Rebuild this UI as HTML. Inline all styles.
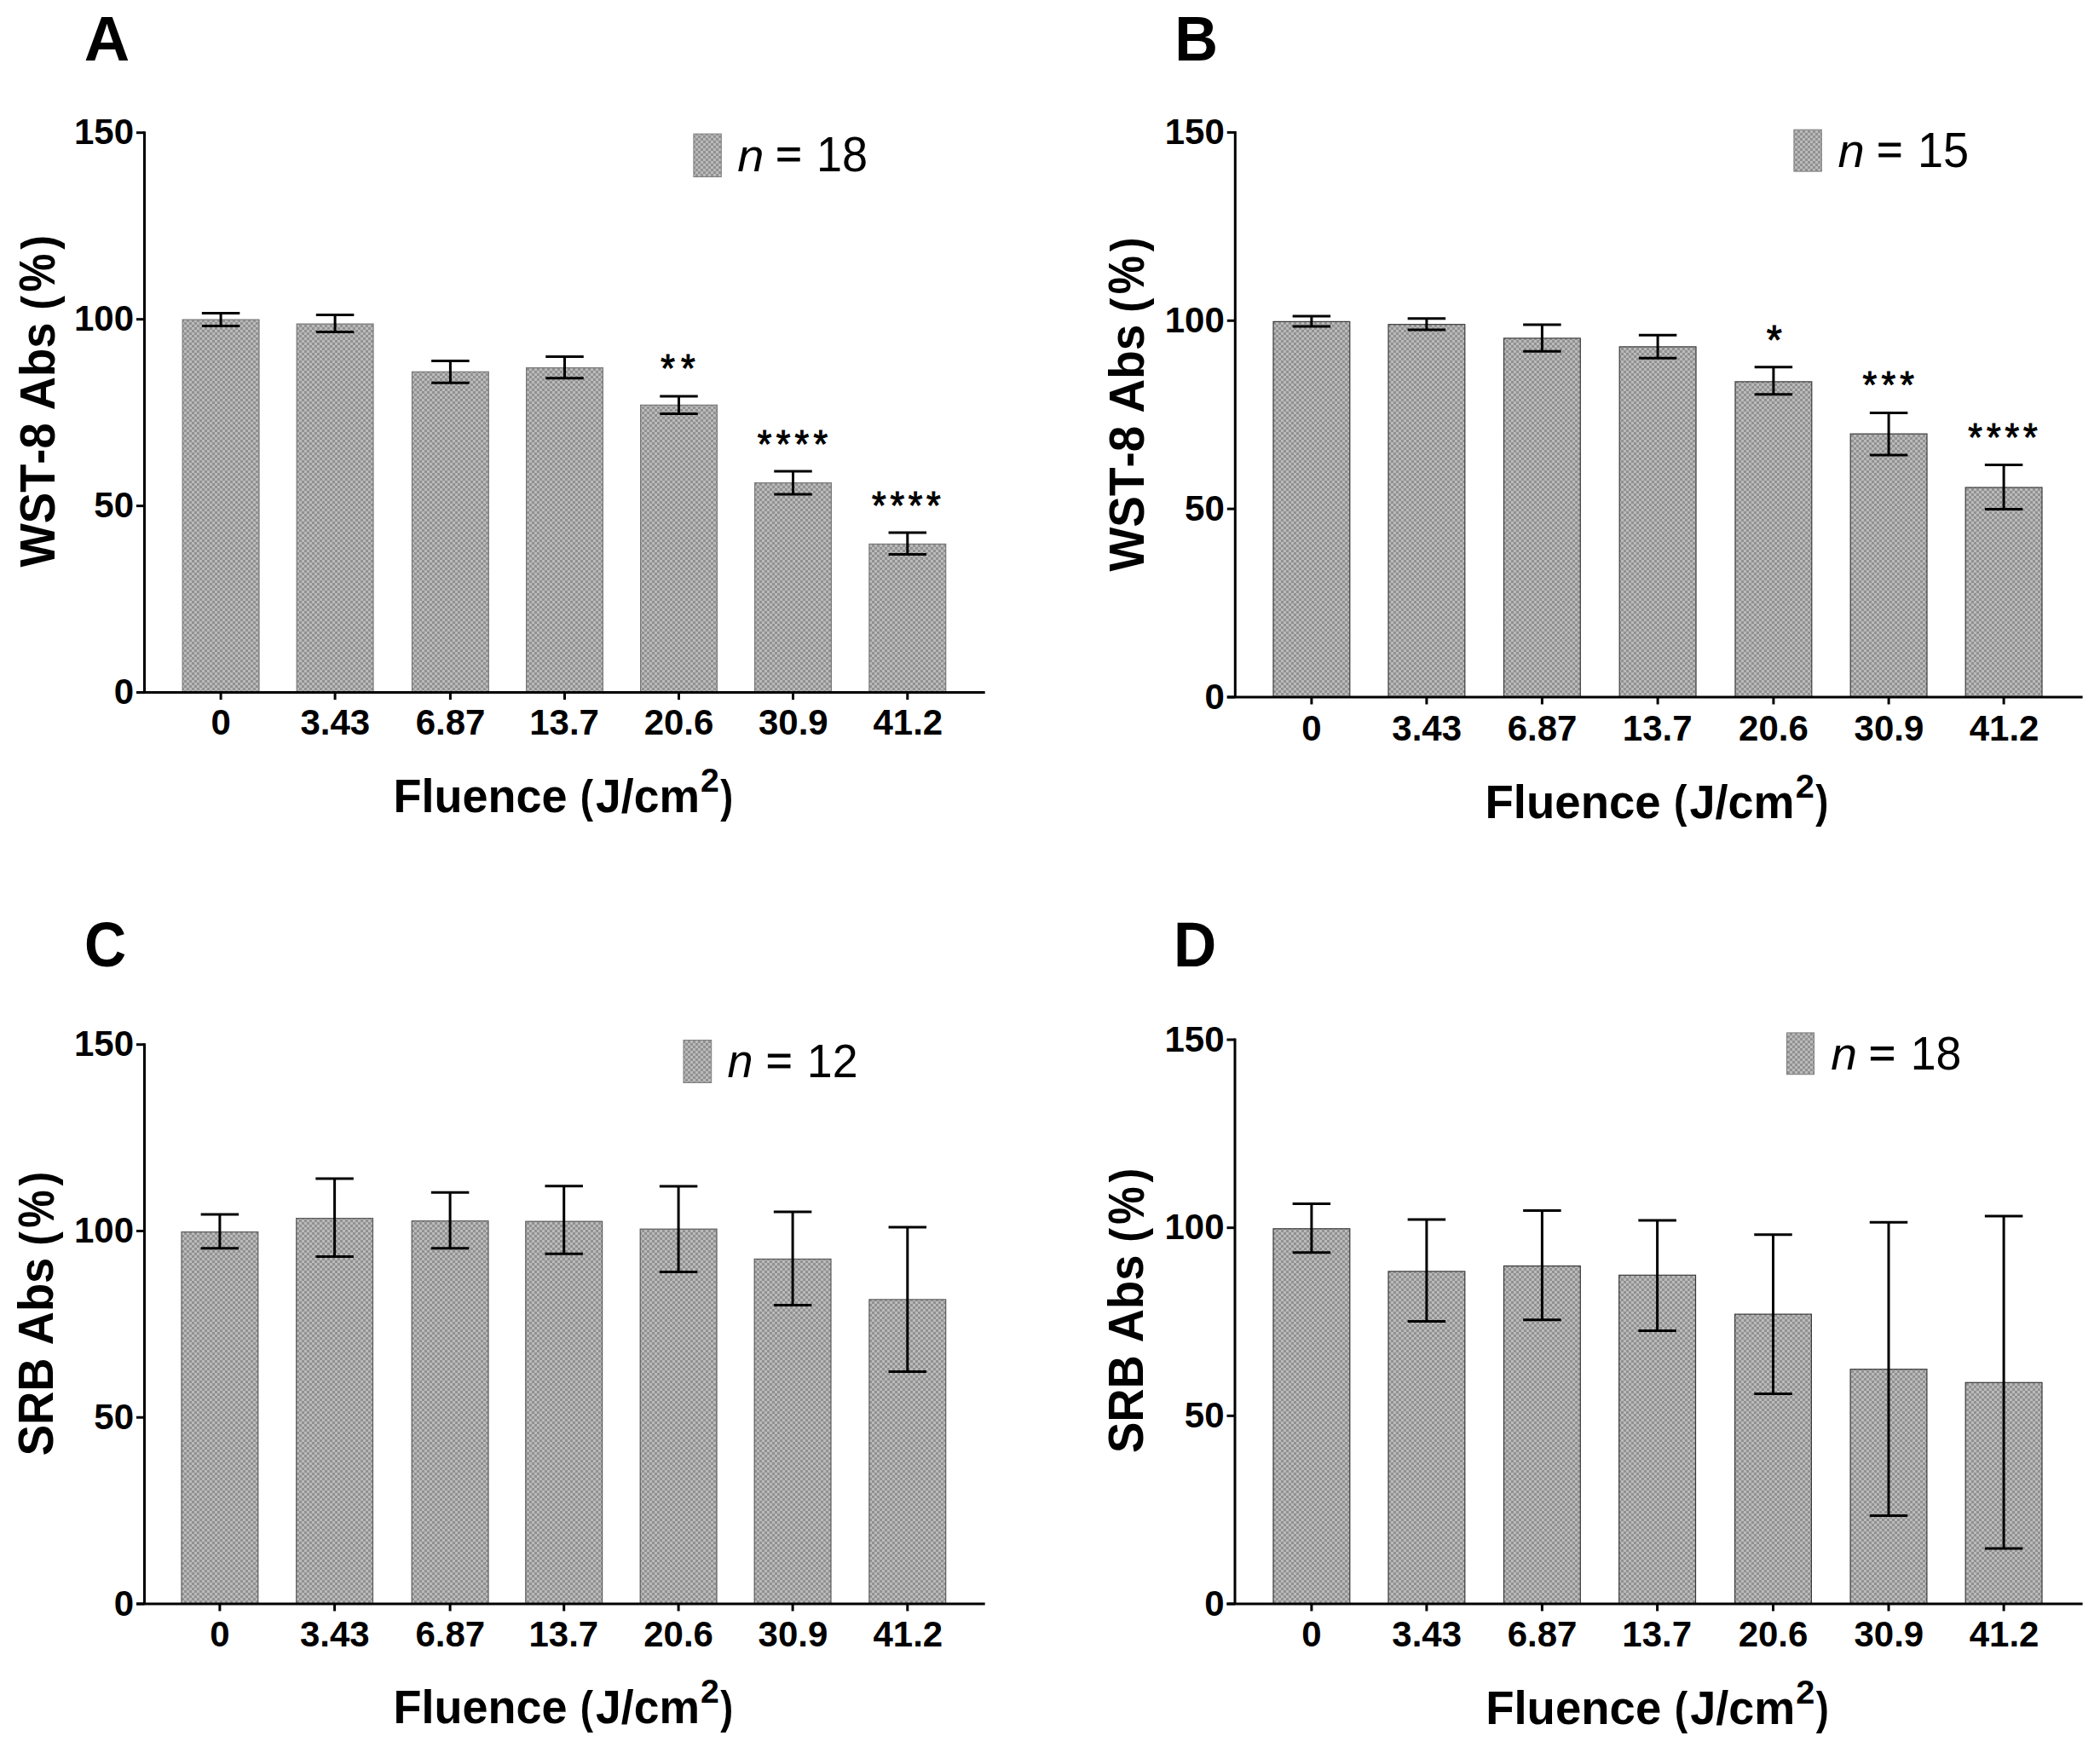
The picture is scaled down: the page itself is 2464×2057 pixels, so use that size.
<!DOCTYPE html><html><head><meta charset="utf-8"><title>Figure</title><style>html,body{margin:0;padding:0;background:#fff;overflow:hidden;}svg{display:block;}text{font-family:"Liberation Sans", Arial, Helvetica, sans-serif;fill:#000;font-kerning:none;}</style></head><body>
<svg width="2464" height="2057" viewBox="0 0 2464 2057">
<defs><pattern id="chk" width="6" height="6" patternUnits="userSpaceOnUse"><rect width="6" height="6" fill="#bababa"/><rect width="3" height="3" fill="#919191"/><rect x="3" y="3" width="3" height="3" fill="#919191"/></pattern></defs>
<rect width="2464" height="2057" fill="#fff"/>
<g><rect x="214.2" y="375.1" width="89.8" height="437.5" fill="url(#chk)" stroke="#777777" stroke-width="1.2"/><rect x="348.2" y="380.1" width="89.8" height="432.5" fill="url(#chk)" stroke="#777777" stroke-width="1.2"/><rect x="483.5" y="436.3" width="89.8" height="376.3" fill="url(#chk)" stroke="#777777" stroke-width="1.2"/><rect x="617.6" y="431.6" width="89.8" height="381" fill="url(#chk)" stroke="#777777" stroke-width="1.2"/><rect x="751.6" y="475.3" width="89.8" height="337.3" fill="url(#chk)" stroke="#777777" stroke-width="1.2"/><rect x="885.6" y="566.6" width="89.8" height="246" fill="url(#chk)" stroke="#777777" stroke-width="1.2"/><rect x="1019.9" y="638.4" width="89.8" height="174.2" fill="url(#chk)" stroke="#777777" stroke-width="1.2"/><path d="M259.1 367.6V382.4M236.85 367.6H281.35M236.85 382.4H281.35" stroke="#000" stroke-width="3" fill="none"/><path d="M393.1 369.5V389.5M370.85 369.5H415.35M370.85 389.5H415.35" stroke="#000" stroke-width="3" fill="none"/><path d="M528.4 423.6V449.3M506.15 423.6H550.65M506.15 449.3H550.65" stroke="#000" stroke-width="3" fill="none"/><path d="M662.5 418.6V443.8M640.25 418.6H684.75M640.25 443.8H684.75" stroke="#000" stroke-width="3" fill="none"/><path d="M796.5 464.9V485.4M774.25 464.9H818.75M774.25 485.4H818.75" stroke="#000" stroke-width="3" fill="none"/><path d="M930.5 553.1V580M908.25 553.1H952.75M908.25 580H952.75" stroke="#000" stroke-width="3" fill="none"/><path d="M1064.8 625V650.6M1042.55 625H1087.05M1042.55 650.6H1087.05" stroke="#000" stroke-width="3" fill="none"/><path d="M169.5 154.2V812.6" stroke="#000" stroke-width="3"/><path d="M160 812.6H1155.7" stroke="#000" stroke-width="3"/><path d="M160 812.6H169.5" stroke="#000" stroke-width="3"/><text transform="translate(133.66 826.38) scale(1 1.02)" font-size="42" font-weight="bold">0</text><path d="M160 593.63H169.5" stroke="#000" stroke-width="3"/><text transform="translate(110.31 607.41) scale(1 1.02)" font-size="42" font-weight="bold">50</text><path d="M160 374.67H169.5" stroke="#000" stroke-width="3"/><text transform="translate(86.95 388.45) scale(1 1.02)" font-size="42" font-weight="bold">100</text><path d="M160 155.7H169.5" stroke="#000" stroke-width="3"/><text transform="translate(86.95 169.48) scale(1 1.02)" font-size="42" font-weight="bold">150</text><path d="M259.1 812.6V821.1" stroke="#000" stroke-width="3"/><text transform="translate(247.45 861.98) scale(1 1.02)" font-size="42" font-weight="bold">0</text><path d="M393.1 812.6V821.1" stroke="#000" stroke-width="3"/><text transform="translate(352.5 861.92) scale(1 1.02)" font-size="42" font-weight="bold">3.43</text><path d="M528.4 812.6V821.1" stroke="#000" stroke-width="3"/><text transform="translate(487.68 861.98) scale(1 1.02)" font-size="42" font-weight="bold">6.87</text><path d="M662.5 812.6V821.1" stroke="#000" stroke-width="3"/><text transform="translate(621.23 861.92) scale(1 1.02)" font-size="42" font-weight="bold">13.7</text><path d="M796.5 812.6V821.1" stroke="#000" stroke-width="3"/><text transform="translate(755.66 861.98) scale(1 1.02)" font-size="42" font-weight="bold">20.6</text><path d="M930.5 812.6V821.1" stroke="#000" stroke-width="3"/><text transform="translate(889.93 861.92) scale(1 1.02)" font-size="42" font-weight="bold">30.9</text><path d="M1064.8 812.6V821.1" stroke="#000" stroke-width="3"/><text transform="translate(1024.45 862.4) scale(1 1.02)" font-size="42" font-weight="bold">41.2</text><text transform="translate(98.86 70.7) scale(1 1)" font-size="74" font-weight="bold">A</text><text transform="translate(63.5 665.45) rotate(-90) scale(0.98 1.04)" font-size="55.5" font-weight="bold">WST-8 Abs</text><text transform="translate(63.5 292.85) rotate(-90) scale(0.91 1)" font-size="55.5" font-weight="bold">)</text><text transform="translate(63.5 363.82) rotate(-90) scale(0.91 1)" font-size="55.5" font-weight="bold">(</text><text transform="translate(64.04 342.55) rotate(-90) scale(1 1.17)" font-size="50.36" font-weight="bold">%</text><g transform="translate(465.1 953.3) scale(1 1)"><text transform="translate(-3.6 0.01) scale(1 1.04)" font-size="54" font-weight="bold">Fluence</text><text transform="translate(215.72 -0.71) scale(0.85 1)" font-size="54" font-weight="bold">(</text><text transform="translate(233.99 0) scale(0.99 1.04)" font-size="54" font-weight="bold">J/cm</text><text transform="translate(380.26 -0.71) scale(0.83 1)" font-size="54" font-weight="bold">)</text><text transform="translate(356.94 -24.1) scale(1 0.99)" font-size="39.26" font-weight="bold">2</text></g><rect x="813.9" y="157.1" width="32.4" height="50.4" fill="url(#chk)" stroke="#7c7c7c" stroke-width="1"/><text transform="translate(865.37 201.1) scale(1 0.97)" font-size="56.06" font-style="italic">n</text><g stroke="#000" stroke-width="0.9"><text transform="translate(910.2 197.43) scale(1 0.93)" font-size="52.28">=</text></g><text transform="translate(957.88 201.14) scale(1 1.06)" font-size="54.1">18</text><g stroke="#000" stroke-width="1.0"><text transform="translate(775.31 447.93) scale(1 1.1)" font-size="42.81" letter-spacing="7.04">**</text><text transform="translate(888.81 537.45) scale(1 1.08)" font-size="42.81" letter-spacing="5.24">****</text><text transform="translate(1023.11 608.75) scale(1 1.08)" font-size="42.81" letter-spacing="4.64">****</text></g></g>
<g><rect x="1494" y="377.4" width="89.8" height="440.6" fill="url(#chk)" stroke="#3a3a3a" stroke-width="1.2"/><rect x="1629" y="380.7" width="89.8" height="437.3" fill="url(#chk)" stroke="#3a3a3a" stroke-width="1.2"/><rect x="1764.5" y="396.9" width="89.8" height="421.1" fill="url(#chk)" stroke="#3a3a3a" stroke-width="1.2"/><rect x="1900.2" y="406.9" width="89.8" height="411.1" fill="url(#chk)" stroke="#3a3a3a" stroke-width="1.2"/><rect x="2036" y="447.9" width="89.8" height="370.1" fill="url(#chk)" stroke="#3a3a3a" stroke-width="1.2"/><rect x="2171.2" y="509.1" width="89.8" height="308.9" fill="url(#chk)" stroke="#3a3a3a" stroke-width="1.2"/><rect x="2306.2" y="572" width="89.8" height="246" fill="url(#chk)" stroke="#3a3a3a" stroke-width="1.2"/><path d="M1538.9 370.9V383M1516.65 370.9H1561.15M1516.65 383H1561.15" stroke="#000" stroke-width="3" fill="none"/><path d="M1673.9 373.7V387M1651.65 373.7H1696.15M1651.65 387H1696.15" stroke="#000" stroke-width="3" fill="none"/><path d="M1809.4 381.1V412.3M1787.15 381.1H1831.65M1787.15 412.3H1831.65" stroke="#000" stroke-width="3" fill="none"/><path d="M1945.1 393.2V420.2M1922.85 393.2H1967.35M1922.85 420.2H1967.35" stroke="#000" stroke-width="3" fill="none"/><path d="M2080.9 430.7V462.7M2058.65 430.7H2103.15M2058.65 462.7H2103.15" stroke="#000" stroke-width="3" fill="none"/><path d="M2216.1 484.4V533.9M2193.85 484.4H2238.35M2193.85 533.9H2238.35" stroke="#000" stroke-width="3" fill="none"/><path d="M2351.1 545.6V597.5M2328.85 545.6H2373.35M2328.85 597.5H2373.35" stroke="#000" stroke-width="3" fill="none"/><path d="M1449.3 153.9V818" stroke="#000" stroke-width="3"/><path d="M1439.8 818H2443.6" stroke="#000" stroke-width="3"/><path d="M1439.8 818H1449.3" stroke="#000" stroke-width="3"/><text transform="translate(1413.46 831.78) scale(1 1.02)" font-size="42" font-weight="bold">0</text><path d="M1439.8 597.13H1449.3" stroke="#000" stroke-width="3"/><text transform="translate(1390.11 610.91) scale(1 1.02)" font-size="42" font-weight="bold">50</text><path d="M1439.8 376.27H1449.3" stroke="#000" stroke-width="3"/><text transform="translate(1366.75 390.05) scale(1 1.02)" font-size="42" font-weight="bold">100</text><path d="M1439.8 155.4H1449.3" stroke="#000" stroke-width="3"/><text transform="translate(1366.75 169.18) scale(1 1.02)" font-size="42" font-weight="bold">150</text><path d="M1538.9 818V826.5" stroke="#000" stroke-width="3"/><text transform="translate(1527.25 868.58) scale(1 1.02)" font-size="42" font-weight="bold">0</text><path d="M1673.9 818V826.5" stroke="#000" stroke-width="3"/><text transform="translate(1633.3 868.52) scale(1 1.02)" font-size="42" font-weight="bold">3.43</text><path d="M1809.4 818V826.5" stroke="#000" stroke-width="3"/><text transform="translate(1768.68 868.58) scale(1 1.02)" font-size="42" font-weight="bold">6.87</text><path d="M1945.1 818V826.5" stroke="#000" stroke-width="3"/><text transform="translate(1903.83 868.52) scale(1 1.02)" font-size="42" font-weight="bold">13.7</text><path d="M2080.9 818V826.5" stroke="#000" stroke-width="3"/><text transform="translate(2040.06 868.58) scale(1 1.02)" font-size="42" font-weight="bold">20.6</text><path d="M2216.1 818V826.5" stroke="#000" stroke-width="3"/><text transform="translate(2175.53 868.52) scale(1 1.02)" font-size="42" font-weight="bold">30.9</text><path d="M2351.1 818V826.5" stroke="#000" stroke-width="3"/><text transform="translate(2310.75 869) scale(1 1.02)" font-size="42" font-weight="bold">41.2</text><text transform="translate(1378.21 70.7) scale(0.95 1)" font-size="74" font-weight="bold">B</text><text transform="translate(1341.5 670.55) rotate(-90) scale(0.99 1.04)" font-size="55.5" font-weight="bold">WST-8 Abs</text><text transform="translate(1341.5 295.25) rotate(-90) scale(0.91 1)" font-size="55.5" font-weight="bold">)</text><text transform="translate(1341.5 366.74) rotate(-90) scale(0.92 1)" font-size="55.5" font-weight="bold">(</text><text transform="translate(1342.04 345.32) rotate(-90) scale(1 1.17)" font-size="50.73" font-weight="bold">%</text><g transform="translate(1746.2 959.6) scale(1.01 1)"><text transform="translate(-3.6 0.01) scale(1 1.04)" font-size="54" font-weight="bold">Fluence</text><text transform="translate(215.72 -0.71) scale(0.85 1)" font-size="54" font-weight="bold">(</text><text transform="translate(233.99 0) scale(0.99 1.04)" font-size="54" font-weight="bold">J/cm</text><text transform="translate(380.26 -0.71) scale(0.83 1)" font-size="54" font-weight="bold">)</text><text transform="translate(356.94 -24.1) scale(1 0.99)" font-size="39.26" font-weight="bold">2</text></g><rect x="2104.9" y="152.2" width="32.4" height="48.9" fill="url(#chk)" stroke="#7c7c7c" stroke-width="1"/><text transform="translate(2156.47 195.6) scale(1 0.98)" font-size="56.26" font-style="italic">n</text><g stroke="#000" stroke-width="0.9"><text transform="translate(2202.33 192.29) scale(1 0.95)" font-size="51.66">=</text></g><text transform="translate(2249.88 195.64) scale(1 1.06)" font-size="54.12">15</text><g stroke="#000" stroke-width="1.0"><text transform="translate(2072.65 414.73) scale(1 1.02)" font-size="46.44">*</text><text transform="translate(2185.61 466.57) scale(1 1.03)" font-size="42.81" letter-spacing="5.19">***</text><text transform="translate(2309.31 529.35) scale(1 1.06)" font-size="42.81" letter-spacing="4.91">****</text></g></g>
<g><rect x="213" y="1445.6" width="89.8" height="436.4" fill="url(#chk)" stroke="#5a5a5a" stroke-width="1.2"/><rect x="347.7" y="1429.6" width="89.8" height="452.4" fill="url(#chk)" stroke="#5a5a5a" stroke-width="1.2"/><rect x="483.2" y="1432.7" width="89.8" height="449.3" fill="url(#chk)" stroke="#5a5a5a" stroke-width="1.2"/><rect x="616.8" y="1433.2" width="89.8" height="448.8" fill="url(#chk)" stroke="#5a5a5a" stroke-width="1.2"/><rect x="751.2" y="1442.2" width="89.8" height="439.8" fill="url(#chk)" stroke="#5a5a5a" stroke-width="1.2"/><rect x="885.2" y="1477.4" width="89.8" height="404.6" fill="url(#chk)" stroke="#5a5a5a" stroke-width="1.2"/><rect x="1019.9" y="1524.9" width="89.8" height="357.1" fill="url(#chk)" stroke="#5a5a5a" stroke-width="1.2"/><path d="M257.9 1425V1464.8M235.65 1425H280.15M235.65 1464.8H280.15" stroke="#000" stroke-width="3" fill="none"/><path d="M392.6 1383.1V1474.5M370.35 1383.1H414.85M370.35 1474.5H414.85" stroke="#000" stroke-width="3" fill="none"/><path d="M528.1 1399.3V1464.8M505.85 1399.3H550.35M505.85 1464.8H550.35" stroke="#000" stroke-width="3" fill="none"/><path d="M661.7 1391.7V1471.2M639.45 1391.7H683.95M639.45 1471.2H683.95" stroke="#000" stroke-width="3" fill="none"/><path d="M796.1 1392.1V1492.4M773.85 1392.1H818.35M773.85 1492.4H818.35" stroke="#000" stroke-width="3" fill="none"/><path d="M930.1 1422.1V1531.4M907.85 1422.1H952.35M907.85 1531.4H952.35" stroke="#000" stroke-width="3" fill="none"/><path d="M1064.8 1440.1V1609.6M1042.55 1440.1H1087.05M1042.55 1609.6H1087.05" stroke="#000" stroke-width="3" fill="none"/><path d="M169.5 1224.2V1882" stroke="#000" stroke-width="3"/><path d="M160 1882H1155.7" stroke="#000" stroke-width="3"/><path d="M160 1882H169.5" stroke="#000" stroke-width="3"/><text transform="translate(133.66 1895.78) scale(1 1.02)" font-size="42" font-weight="bold">0</text><path d="M160 1663.23H169.5" stroke="#000" stroke-width="3"/><text transform="translate(110.31 1677.01) scale(1 1.02)" font-size="42" font-weight="bold">50</text><path d="M160 1444.47H169.5" stroke="#000" stroke-width="3"/><text transform="translate(86.95 1458.25) scale(1 1.02)" font-size="42" font-weight="bold">100</text><path d="M160 1225.7H169.5" stroke="#000" stroke-width="3"/><text transform="translate(86.95 1239.48) scale(1 1.02)" font-size="42" font-weight="bold">150</text><path d="M257.9 1882V1890.5" stroke="#000" stroke-width="3"/><text transform="translate(246.25 1931.58) scale(1 1.02)" font-size="42" font-weight="bold">0</text><path d="M392.6 1882V1890.5" stroke="#000" stroke-width="3"/><text transform="translate(352 1931.52) scale(1 1.02)" font-size="42" font-weight="bold">3.43</text><path d="M528.1 1882V1890.5" stroke="#000" stroke-width="3"/><text transform="translate(487.38 1931.58) scale(1 1.02)" font-size="42" font-weight="bold">6.87</text><path d="M661.7 1882V1890.5" stroke="#000" stroke-width="3"/><text transform="translate(620.43 1931.52) scale(1 1.02)" font-size="42" font-weight="bold">13.7</text><path d="M796.1 1882V1890.5" stroke="#000" stroke-width="3"/><text transform="translate(755.26 1931.58) scale(1 1.02)" font-size="42" font-weight="bold">20.6</text><path d="M930.1 1882V1890.5" stroke="#000" stroke-width="3"/><text transform="translate(889.53 1931.52) scale(1 1.02)" font-size="42" font-weight="bold">30.9</text><path d="M1064.8 1882V1890.5" stroke="#000" stroke-width="3"/><text transform="translate(1024.45 1932) scale(1 1.02)" font-size="42" font-weight="bold">41.2</text><text transform="translate(98.92 1133.89) scale(0.92 0.99)" font-size="74" font-weight="bold">C</text><text transform="translate(62.3 1708.27) rotate(-90) scale(0.98 1.04)" font-size="55.5" font-weight="bold">SRB Abs</text><text transform="translate(62.3 1391.59) rotate(-90) scale(0.9 1)" font-size="55.5" font-weight="bold">)</text><text transform="translate(62.3 1461.81) rotate(-90) scale(0.9 1)" font-size="55.5" font-weight="bold">(</text><text transform="translate(62.84 1440.77) rotate(-90) scale(1 1.19)" font-size="49.82" font-weight="bold">%</text><g transform="translate(465.1 2022.3) scale(1 1)"><text transform="translate(-3.6 0.01) scale(1 1.04)" font-size="54" font-weight="bold">Fluence</text><text transform="translate(215.72 -0.71) scale(0.85 1)" font-size="54" font-weight="bold">(</text><text transform="translate(233.99 0) scale(0.99 1.04)" font-size="54" font-weight="bold">J/cm</text><text transform="translate(380.26 -0.71) scale(0.83 1)" font-size="54" font-weight="bold">)</text><text transform="translate(356.94 -24.1) scale(1 0.99)" font-size="39.26" font-weight="bold">2</text></g><rect x="802" y="1220.5" width="32.7" height="50" fill="url(#chk)" stroke="#7c7c7c" stroke-width="1"/><text transform="translate(853.4 1263.8) scale(1 1.02)" font-size="54.03" font-style="italic">n</text><g stroke="#000" stroke-width="0.9"><text transform="translate(898.87 1260.84) scale(1 0.93)" font-size="52.9">=</text></g><text transform="translate(946.81 1263.8) scale(1 1.05)" font-size="53.66">12</text><g stroke="#000" stroke-width="1.0"></g></g>
<g><rect x="1494" y="1441.8" width="89.8" height="440.2" fill="url(#chk)" stroke="#383838" stroke-width="1.2"/><rect x="1629" y="1491.9" width="89.8" height="390.1" fill="url(#chk)" stroke="#383838" stroke-width="1.2"/><rect x="1764.5" y="1485.5" width="89.8" height="396.5" fill="url(#chk)" stroke="#383838" stroke-width="1.2"/><rect x="1899.7" y="1496.3" width="89.8" height="385.7" fill="url(#chk)" stroke="#383838" stroke-width="1.2"/><rect x="2035.6" y="1542.1" width="89.8" height="339.9" fill="url(#chk)" stroke="#383838" stroke-width="1.2"/><rect x="2171.1" y="1606.7" width="89.8" height="275.3" fill="url(#chk)" stroke="#383838" stroke-width="1.2"/><rect x="2306.2" y="1622.3" width="89.8" height="259.7" fill="url(#chk)" stroke="#383838" stroke-width="1.2"/><path d="M1538.9 1412.4V1469.7M1516.65 1412.4H1561.15M1516.65 1469.7H1561.15" stroke="#000" stroke-width="3" fill="none"/><path d="M1673.9 1430.9V1550.5M1651.65 1430.9H1696.15M1651.65 1550.5H1696.15" stroke="#000" stroke-width="3" fill="none"/><path d="M1809.4 1420.6V1548.7M1787.15 1420.6H1831.65M1787.15 1548.7H1831.65" stroke="#000" stroke-width="3" fill="none"/><path d="M1944.6 1432V1561.5M1922.35 1432H1966.85M1922.35 1561.5H1966.85" stroke="#000" stroke-width="3" fill="none"/><path d="M2080.5 1448.7V1635.4M2058.25 1448.7H2102.75M2058.25 1635.4H2102.75" stroke="#000" stroke-width="3" fill="none"/><path d="M2216 1434.2V1778.6M2193.75 1434.2H2238.25M2193.75 1778.6H2238.25" stroke="#000" stroke-width="3" fill="none"/><path d="M2351.1 1427.1V1817.1M2328.85 1427.1H2373.35M2328.85 1817.1H2373.35" stroke="#000" stroke-width="3" fill="none"/><path d="M1449 1218.5V1882" stroke="#000" stroke-width="3"/><path d="M1439.5 1882H2443.6" stroke="#000" stroke-width="3"/><path d="M1439.5 1882H1449" stroke="#000" stroke-width="3"/><text transform="translate(1413.16 1895.78) scale(1 1.02)" font-size="42" font-weight="bold">0</text><path d="M1439.5 1661.33H1449" stroke="#000" stroke-width="3"/><text transform="translate(1389.81 1675.11) scale(1 1.02)" font-size="42" font-weight="bold">50</text><path d="M1439.5 1440.67H1449" stroke="#000" stroke-width="3"/><text transform="translate(1366.45 1454.45) scale(1 1.02)" font-size="42" font-weight="bold">100</text><path d="M1439.5 1220H1449" stroke="#000" stroke-width="3"/><text transform="translate(1366.45 1233.78) scale(1 1.02)" font-size="42" font-weight="bold">150</text><path d="M1538.9 1882V1890.5" stroke="#000" stroke-width="3"/><text transform="translate(1527.25 1931.58) scale(1 1.02)" font-size="42" font-weight="bold">0</text><path d="M1673.9 1882V1890.5" stroke="#000" stroke-width="3"/><text transform="translate(1633.3 1931.52) scale(1 1.02)" font-size="42" font-weight="bold">3.43</text><path d="M1809.4 1882V1890.5" stroke="#000" stroke-width="3"/><text transform="translate(1768.68 1931.58) scale(1 1.02)" font-size="42" font-weight="bold">6.87</text><path d="M1944.6 1882V1890.5" stroke="#000" stroke-width="3"/><text transform="translate(1903.33 1931.52) scale(1 1.02)" font-size="42" font-weight="bold">13.7</text><path d="M2080.5 1882V1890.5" stroke="#000" stroke-width="3"/><text transform="translate(2039.66 1931.58) scale(1 1.02)" font-size="42" font-weight="bold">20.6</text><path d="M2216 1882V1890.5" stroke="#000" stroke-width="3"/><text transform="translate(2175.43 1931.52) scale(1 1.02)" font-size="42" font-weight="bold">30.9</text><path d="M2351.1 1882V1890.5" stroke="#000" stroke-width="3"/><text transform="translate(2310.75 1932) scale(1 1.02)" font-size="42" font-weight="bold">41.2</text><text transform="translate(1377.05 1134) scale(0.94 0.99)" font-size="74" font-weight="bold">D</text><text transform="translate(1341.2 1705.07) rotate(-90) scale(0.98 1.04)" font-size="55.5" font-weight="bold">SRB Abs</text><text transform="translate(1341.2 1387.44) rotate(-90) scale(0.9 1)" font-size="55.5" font-weight="bold">)</text><text transform="translate(1341.2 1457.86) rotate(-90) scale(0.91 1)" font-size="55.5" font-weight="bold">(</text><text transform="translate(1341.74 1436.76) rotate(-90) scale(1 1.18)" font-size="49.97" font-weight="bold">%</text><g transform="translate(1746.8 2023.4) scale(1.01 1)"><text transform="translate(-3.6 0.01) scale(1 1.04)" font-size="54" font-weight="bold">Fluence</text><text transform="translate(215.72 -0.71) scale(0.85 1)" font-size="54" font-weight="bold">(</text><text transform="translate(233.99 0) scale(0.99 1.04)" font-size="54" font-weight="bold">J/cm</text><text transform="translate(380.26 -0.71) scale(0.83 1)" font-size="54" font-weight="bold">)</text><text transform="translate(356.94 -24.1) scale(1 0.99)" font-size="39.26" font-weight="bold">2</text></g><rect x="2096.5" y="1211.9" width="32" height="48.8" fill="url(#chk)" stroke="#7c7c7c" stroke-width="1"/><text transform="translate(2148.28 1254.6) scale(1 0.97)" font-size="55.25" font-style="italic">n</text><g stroke="#000" stroke-width="0.9"><text transform="translate(2192.83 1252.29) scale(1 0.91)" font-size="53.72">=</text></g><text transform="translate(2241.72 1254.86) scale(1 1.04)" font-size="53.59">18</text><g stroke="#000" stroke-width="1.0"></g></g>
</svg></body></html>
